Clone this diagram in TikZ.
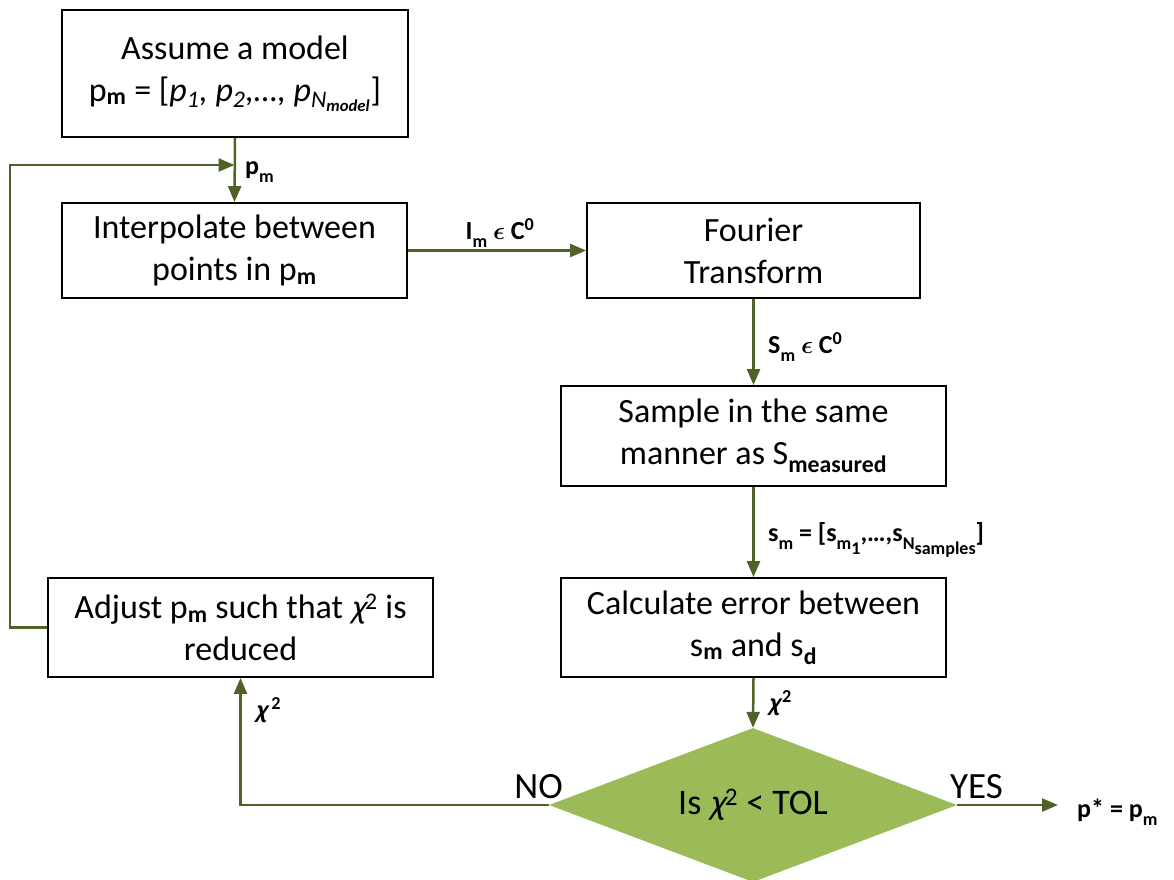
\documentclass[tikz,border=0pt]{standalone}
\usepackage{fontspec}
\setmainfont{Carlito}
\newfontfamily\chifont[FakeSlant=0.25]{Carlito}
\usetikzlibrary{arrows.meta,shapes.geometric,calc}
\definecolor{ln}{HTML}{4F6228}
\definecolor{dm}{HTML}{9BBB59}
\newcommand{\sbb}[1]{\textsubscript{\bfseries #1}}
\newcommand{\lsub}[2][-0.3em]{\raisebox{#1}{\fontsize{18}{18}\selectfont\bfseries #2}}
\newcommand{\chisym}{{\chifont χ}}
\begin{document}
\begin{tikzpicture}[x=1pt,y=-1pt,
  box/.style={draw=black,line width=1.8pt,align=center,inner sep=0pt,
    font=\fontsize{34}{42}\selectfont},
  arr/.style={draw=ln,line width=2.5pt,-{Triangle[length=16pt,width=13pt]}},
  lab/.style={font=\fontsize{26}{28}\selectfont\bfseries\boldmath,inner sep=0pt},
  big/.style={font=\fontsize{37}{40}\selectfont,inner sep=0pt}]
\useasboundingbox (0,0) rectangle (1174,879);
\node[box,minimum width=346pt,minimum height=127pt] (A) at (235,73.5)
  {Assume a model\\p\sbb{m} = [\textit{p\textsubscript{1}, p\textsubscript{2},…, p\textsubscript{N\textsubscript{\bfseries model}}}]};
\node[box,minimum width=345pt,minimum height=95pt] (B) at (234.5,250.5)
  {Interpolate between\\points in p\sbb{m}};
\node[box,minimum width=333pt,minimum height=95pt] (C) at (753.5,250.5)
  {Fourier\\Transform};
\node[box,minimum width=385pt,minimum height=100pt] (D) at (753.5,436)
  {Sample in the same\\manner as S\sbb{measured}};
\node[box,minimum width=385pt,minimum height=99pt] (E) at (753.5,627.5)
  {Calculate error between\\s\sbb{m} and s\sbb{d}};
\node[box,minimum width=385pt,minimum height=99pt] (F) at (240.5,627.5)
  {Adjust p\sbb{m} such that \chisym\textsuperscript{2} is\\reduced};
\node[diamond,fill=dm,minimum width=408pt,minimum height=154pt,aspect=2.65,
  inner sep=0pt,font=\fontsize{36}{40}\selectfont] (G) at (753,805)
  {Is \chisym\textsuperscript{2} < TOL};
\coordinate (fb) at (10,165);
\coordinate (fbe) at (234.5,165);
\coordinate (out) at (1058,805);
\draw[arr] (A.south) -- (B.north);
\draw[arr] (F.west) -| (fb) -- (fbe);
\draw[arr] (B.east) -- (C.west);
\draw[arr] (C.south) -- (D.north);
\draw[arr] (D.south) -- (E.north);
\draw[arr] (E.south) -- (G.north);
\draw[arr] (G.west) -| (F.south);
\draw[arr] (G.east) -- (out);
\node[lab,anchor=west] (l1) at (245,172) {p\lsub{m}};
\node[lab] (l2) at (500,233) {I\lsub{m} $\epsilon$ C\textsuperscript{0}};
\node[lab,anchor=west] (l3) at (768,347) {S\lsub{m} $\epsilon$ C\textsuperscript{0}};
\node[lab,anchor=west] (l4) at (768,540) {s\lsub{m} = [s\lsub{m\lsub[-0.25em]{1}},…,s\lsub{N\lsub[-0.25em]{samples}}]};
\node[lab,anchor=west] (l5) at (768,703) {\chisym\kern0.08em\textsuperscript{2}};
\node[lab,anchor=west] (l6) at (255,710) {\chisym\,\textsuperscript{2}};
\node[big,anchor=east] (no) at (563,787) {NO};
\node[big,anchor=west] (yes) at (950,787) {YES};
\node[lab,anchor=west] (res) at (1077,812) {p* = p\lsub{m}};
\end{tikzpicture}
\end{document}
